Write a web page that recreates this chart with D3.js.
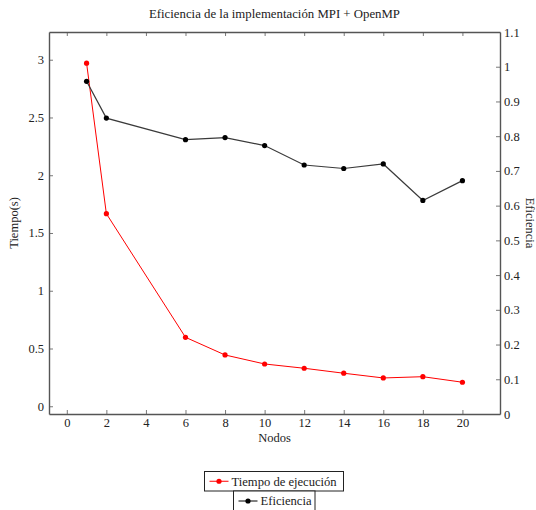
<!DOCTYPE html>
<html>
<head>
<meta charset="utf-8">
<script src="https://cdn.jsdelivr.net/npm/d3@7"></script>
<style>
  body { margin: 0; background: #fff; }
  text { font-family: "Liberation Serif", "DejaVu Serif", serif; fill: #222; }
</style>
</head>
<body>
<div id="chart"></div>
<script>
// data
var nodos = [1, 2, 6, 8, 10, 12, 14, 16, 18, 20];
var tiempo = [2.97, 1.667, 0.597, 0.444, 0.366, 0.329, 0.286, 0.245, 0.256, 0.208];
var eficiencia = [0.958, 0.852, 0.790, 0.796, 0.773, 0.717, 0.707, 0.720, 0.615, 0.672];
var xTicks = [0, 2, 4, 6, 8, 10, 12, 14, 16, 18, 20];
var yLeftTicks = [0, 0.5, 1, 1.5, 2, 2.5, 3];
var yRightTicks = [0, 0.1, 0.2, 0.3, 0.4, 0.5, 0.6, 0.7, 0.8, 0.9, 1, 1.1];

var W = 536, H = 510;
var margin = {top: 32, right: 36, bottom: 96, left: 49};
var width = W - margin.left - margin.right,
    height = H - margin.top - margin.bottom;

var svg = d3.select("#chart").append("svg")
    .attr("width", W).attr("height", H);

var g = svg.append("g")
    .attr("transform", "translate(" + margin.left + "," + margin.top + ")");

var x = d3.scaleLinear().domain([-0.9, 21.9]).range([0, width]);
var yL = d3.scaleLinear().domain([-0.067, 3.24]).range([height, 0]);
var yR = d3.scaleLinear().domain([0, 1.1]).range([height, 0]);

var axisColor = "#555";
var tickLen = 4;

// axes (ticks drawn inward, pgfplots style)
var xb = g.append("g").attr("transform", "translate(0," + height + ")")
    .call(d3.axisBottom(x).tickValues(xTicks).tickSizeInner(-tickLen).tickSizeOuter(0).tickPadding(4));
var xt = g.append("g")
    .call(d3.axisTop(x).tickValues(xTicks).tickSizeInner(-tickLen).tickSizeOuter(0).tickFormat(""));
var yl = g.append("g")
    .call(d3.axisLeft(yL).tickValues(yLeftTicks).tickSizeInner(-tickLen).tickSizeOuter(0).tickPadding(5)
        .tickFormat(function(d) { return d3.format("")(d); }));
var yr = g.append("g").attr("transform", "translate(" + width + ",0)")
    .call(d3.axisRight(yR).tickValues(yRightTicks).tickSizeInner(-tickLen).tickSizeOuter(0).tickPadding(4)
        .tickFormat(function(d) { return d3.format("")(+d.toFixed(1)); }));

[xb, xt, yl, yr].forEach(function(a) {
    a.select(".domain").attr("stroke", axisColor).attr("stroke-width", 1.4);
    a.selectAll(".tick line").attr("stroke", axisColor).attr("stroke-width", 0.8);
    a.selectAll("text").style("font-family", "'Liberation Serif', serif")
        .style("font-size", "12.5px").attr("fill", "#222");
});

// lines
var lineT = d3.line().x(function(d, i) { return x(nodos[i]); }).y(function(d) { return yL(d); });
var lineE = d3.line().x(function(d, i) { return x(nodos[i]); }).y(function(d) { return yR(d); });

g.append("path").datum(tiempo).attr("d", lineT)
    .attr("fill", "none").attr("stroke", "#ff0000").attr("stroke-width", 1);
g.selectAll(".ptT").data(tiempo).enter().append("circle")
    .attr("class", "ptT")
    .attr("cx", function(d, i) { return x(nodos[i]); })
    .attr("cy", function(d) { return yL(d); })
    .attr("r", 2.6).attr("fill", "#ff0000");

g.append("path").datum(eficiencia).attr("d", lineE)
    .attr("fill", "none").attr("stroke", "#3a3a3a").attr("stroke-width", 1.2);
g.selectAll(".ptE").data(eficiencia).enter().append("circle")
    .attr("class", "ptE")
    .attr("cx", function(d, i) { return x(nodos[i]); })
    .attr("cy", function(d) { return yR(d); })
    .attr("r", 2.6).attr("fill", "#000");

// titles and axis labels
var cx = margin.left + width / 2;
svg.append("text").attr("x", cx).attr("y", 18).attr("text-anchor", "middle")
    .style("font-size", "12.8px").text("Eficiencia de la implementación MPI + OpenMP");
svg.append("text").attr("x", cx).attr("y", 442).attr("text-anchor", "middle")
    .style("font-size", "12.5px").text("Nodos");
svg.append("text").attr("transform", "translate(18," + (margin.top + height / 2) + ") rotate(-90)")
    .attr("text-anchor", "middle").style("font-size", "12.5px").text("Tiempo(s)");
svg.append("text").attr("transform", "translate(526," + (margin.top + height / 2) + ") rotate(90)")
    .attr("text-anchor", "middle").style("font-size", "12.5px").text("Eficiencia");

// legends (two stacked boxes)
var legends = [
    {label: "Tiempo de ejecución", color: "#ff0000", x0: 204.5, x1: 343.5, y0: 471.5, y1: 491},
    {label: "Eficiencia", color: "#000", x0: 233.5, x1: 315, y0: 491, y1: 511}
];
legends.forEach(function(l) {
    var lg = svg.append("g");
    lg.append("rect").attr("x", l.x0).attr("y", l.y0)
        .attr("width", l.x1 - l.x0).attr("height", l.y1 - l.y0)
        .attr("fill", "#fff").attr("stroke", "#222").attr("stroke-width", 1);
    var my = (l.y0 + l.y1) / 2;
    lg.append("line").attr("x1", l.x0 + 5).attr("x2", l.x0 + 24)
        .attr("y1", my).attr("y2", my).attr("stroke", l.color).attr("stroke-width", 1);
    lg.append("circle").attr("cx", l.x0 + 14.5).attr("cy", my).attr("r", 2.6).attr("fill", l.color);
    lg.append("text").attr("x", l.x0 + 27).attr("y", my + 4.3)
        .style("font-size", "12.6px").text(l.label);
});
</script>
</body>
</html>
